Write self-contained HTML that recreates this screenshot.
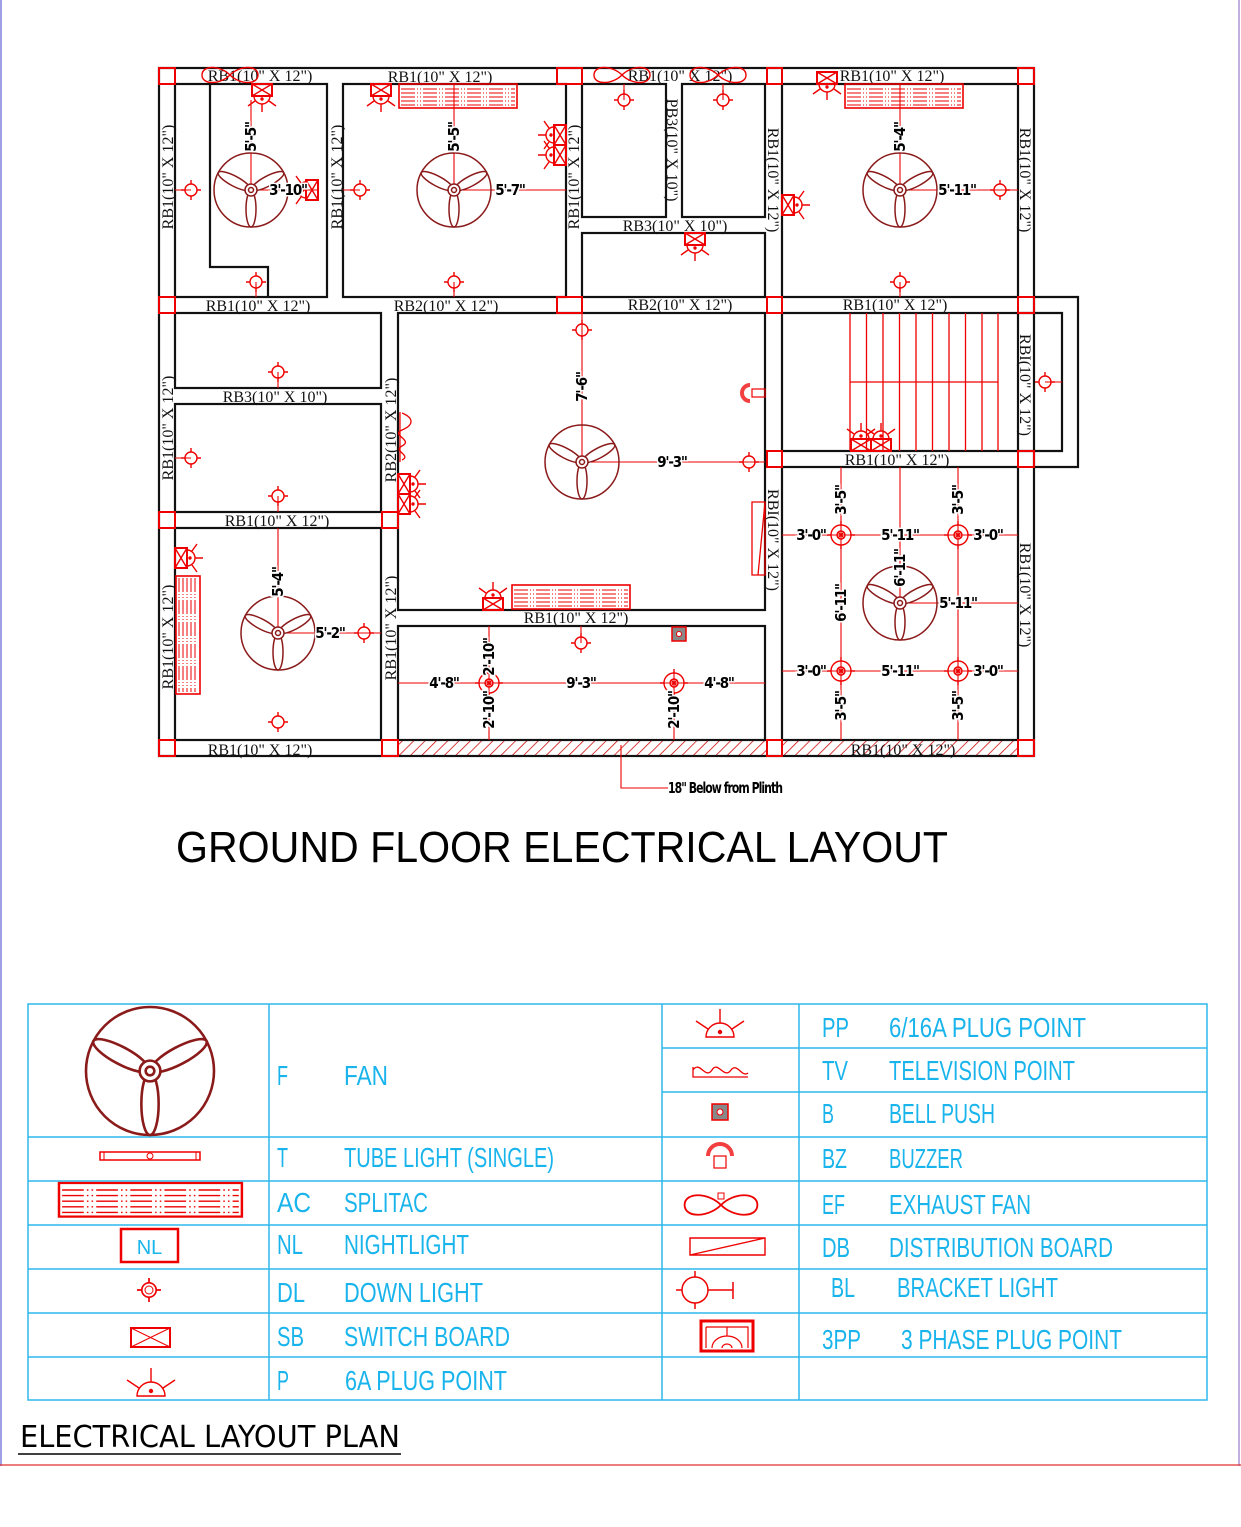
<!DOCTYPE html>
<html><head><meta charset="utf-8">
<style>
html,body{margin:0;padding:0;background:#fff}
svg{display:block}
.w{fill:none;stroke:#111;stroke-width:2.2}
.rb{font-family:"Liberation Serif",serif;font-size:16px;fill:#111}
.d{font-family:"DejaVu Sans Condensed","Liberation Sans",sans-serif;font-weight:bold;font-size:15px;letter-spacing:-1.2px;fill:#000;stroke:#fff;stroke-width:3;paint-order:stroke;text-anchor:middle;dominant-baseline:central}
.r{fill:none;stroke:#e00;stroke-width:1.3}
.col{fill:none;stroke:#e00;stroke-width:2}
.lg{font-family:"Liberation Sans",sans-serif;font-size:28px;fill:#1ab4ec}
.tl{fill:none;stroke:#2fb8ec;stroke-width:1.5}
</style></head><body>
<svg width="1241" height="1527" viewBox="0 0 1241 1527" xmlns="http://www.w3.org/2000/svg">
<defs>
<pattern id="hat" width="8" height="8" patternUnits="userSpaceOnUse" patternTransform="rotate(45)">
<line x1="0" y1="0" x2="0" y2="8" stroke="#c00" stroke-width="1.5"/></pattern>
<g id="fan" fill="none" stroke="#8b1a1a" stroke-width="1.5">
<circle r="37"/>
<ellipse cx="0" cy="19" rx="5" ry="18"/>
<ellipse cx="0" cy="19" rx="5" ry="18" transform="rotate(118)"/>
<ellipse cx="0" cy="19" rx="5" ry="18" transform="rotate(-118)"/>
<circle r="6" fill="#fff"/><circle r="2.5"/>
</g>
<g id="lt" fill="none" stroke="#e00" stroke-width="1.4">
<circle r="6"/><path d="M-10 0H-6M6 0H10M0-10V-6M0 6V10"/></g>
<g id="dl" fill="none" stroke="#e00" stroke-width="1.4">
<circle r="10"/><circle r="4"/><path d="M-3 -3L3 3M3 -3L-3 3M-14 0H-10M10 0H14M0-14V-10M0 10V14"/></g>
<g id="sbp" fill="none" stroke="#e00" stroke-width="1.4">
<rect x="-10" y="0" width="20" height="12" stroke-width="2"/><path d="M-10 0L10 12M10 0L-10 12"/>
<path d="M-8 12A8 8 0 0 0 8 12"/><circle cx="0" cy="15" r="1" fill="#e00"/>
<path d="M0 20V28M-7 17L-14 22M7 17L14 22"/></g>
<g id="plug" fill="none" stroke="#e00" stroke-width="1.4">
<path d="M-14 0A14 14 0 0 1 14 0Z"/><circle cx="0" cy="-5" r="1.5" fill="#e00"/>
<path d="M0 -14V-28M-12 -8L-24 -16M12 -8L24 -16"/></g>
<g id="ef" fill="none" stroke="#e00" stroke-width="1.4">
<path d="M0 0C-10 -10 -28 -10 -28 0C-28 10 -10 10 0 0C10 -10 28 -10 28 0C28 10 10 10 0 0Z"/></g>
<g id="ach" stroke="#e00" stroke-width="1" fill="none">
<rect x="0" y="0" width="118" height="24" stroke-width="1.6"/>
<path d="M2 5H116M2 9H116M2 13H116M2 17H116M2 21H116" stroke-dasharray="14 2 1 2 1 2"/>
</g>
</defs>

<line x1="1" y1="0" x2="1" y2="1466" stroke="#4040d0" stroke-width="1"/>
<line x1="1239" y1="0" x2="1239" y2="1466" stroke="#8060c0" stroke-width="1"/>
<line x1="0" y1="1465" x2="1241" y2="1465" stroke="#e03030" stroke-width="1.2"/>

<rect x="398" y="740" width="369" height="16" fill="url(#hat)"/>
<rect x="782" y="740" width="236" height="16" fill="url(#hat)"/>

<rect class="w" x="159" y="68" width="875" height="688"/>
<rect class="w" x="175" y="84" width="152" height="213"/>
<path class="w" d="M210 84V267H268V297"/>
<rect class="w" x="343" y="84" width="223" height="213"/>
<rect class="w" x="582" y="84" width="84" height="133"/>
<rect class="w" x="682" y="84" width="83" height="133"/>
<rect class="w" x="582" y="233" width="183" height="64"/>
<rect class="w" x="782" y="84" width="236" height="213"/>
<rect class="w" x="175" y="313" width="206" height="75"/>
<rect class="w" x="175" y="404" width="206" height="108"/>
<rect class="w" x="175" y="528" width="206" height="212"/>
<rect class="w" x="398" y="313" width="367" height="297"/>
<rect class="w" x="398" y="626" width="367" height="114"/>
<rect class="w" x="782" y="313" width="236" height="138"/>
<rect class="w" x="782" y="467" width="236" height="273"/>
<path class="w" d="M1034 297H1078V467H1034M1018 313H1062V451H1018"/>

<g class="col">
<rect x="159" y="68" width="16" height="16"/><rect x="557" y="68" width="25" height="16"/><rect x="767" y="68" width="15" height="16"/><rect x="1018" y="68" width="16" height="16"/>
<rect x="159" y="297" width="16" height="16"/><rect x="557" y="297" width="25" height="16"/><rect x="767" y="297" width="15" height="16"/><rect x="1018" y="297" width="16" height="16"/>
<rect x="767" y="451" width="15" height="16"/><rect x="1018" y="451" width="16" height="16"/>
<rect x="159" y="512" width="16" height="16"/><rect x="382" y="512" width="16" height="16"/>
<rect x="159" y="740" width="16" height="16"/><rect x="382" y="740" width="16" height="16"/><rect x="767" y="740" width="15" height="16"/><rect x="1018" y="740" width="16" height="16"/>
</g>

<g stroke="#e00" stroke-width="1.3">
<path d="M850 313V451M866.5 313V451M883 313V451M899.5 313V451M916 313V451M932.5 313V451M949 313V451M965.5 313V451M982 313V451M998 313V451M850 382H998"/>
</g>

<g class="rb" text-anchor="middle">
<text x="260" y="81">RB1(10" X 12")</text>
<text x="440" y="82">RB1(10" X 12")</text>
<text x="680" y="81">RB1(10" X 12")</text>
<text x="892" y="81">RB1(10" X 12")</text>
<text x="258" y="311">RB1(10" X 12")</text>
<text x="446" y="311">RB2(10" X 12")</text>
<text x="680" y="310">RB2(10" X 12")</text>
<text x="895" y="310">RB1(10" X 12")</text>
<text x="275" y="402">RB3(10" X 10")</text>
<text x="675" y="231">RB3(10" X 10")</text>
<text x="277" y="526">RB1(10" X 12")</text>
<text x="576" y="623">RB1(10" X 12")</text>
<text x="897" y="465">RB1(10" X 12")</text>
<text x="260" y="755">RB1(10" X 12")</text>
<text x="903" y="755">RB1(10" X 12")</text>
<text transform="translate(173,177) rotate(-90)">RB1(10" X 12")</text>
<text transform="translate(173,428) rotate(-90)">RB1(10" X 12")</text>
<text transform="translate(173,637) rotate(-90)">RB1(10" X 12")</text>
<text transform="translate(342,177) rotate(-90)">RB1(10" X 12")</text>
<text transform="translate(579,177) rotate(-90)">RB1(10" X 12")</text>
<text transform="translate(396,430) rotate(-90)">RB2(10" X 12")</text>
<text transform="translate(396,628) rotate(-90)">RB1(10" X 12")</text>
<text transform="translate(768,180) rotate(90)">RB1(10" X 12")</text>
<text transform="translate(768,540) rotate(90)">RBI(10" X 12")</text>
<text transform="translate(1020,180) rotate(90)">RB1(10" X 12")</text>
<text transform="translate(1020,385) rotate(90)">RBI(10" X 12")</text>
<text transform="translate(1020,595) rotate(90)">RB1(10" X 12")</text>
<text transform="translate(667,150) rotate(90)">PB3(10" X 10")</text>
</g>

<g stroke="#e00" stroke-width="1.1" fill="none">
<path d="M251 100V190H318"/>
<path d="M454 84V190H566"/>
<path d="M900 84V190H1018"/>
<path d="M582 313V462H765"/>
<path d="M278 528V633H381"/>
<path d="M398 683H765M489 626V740M674 672V740"/>
<path d="M782 535H1018M782 671H1018M841 467V740M958 467V740M900 467V603H1018"/>
<path d="M621 745V788H668"/>
<path d="M191 190H175M360 190H343M256 282V297M454 282V297M900 282V297M278 372V388M278 496V512M191 458H175M364 633H381M749 462H765M581 643V626M624 100V84M723 100V84M1045 382H1062"/>
</g>

<use href="#fan" x="251" y="190"/>
<use href="#fan" x="454" y="190"/>
<use href="#fan" x="900" y="190"/>
<use href="#fan" x="582" y="462"/>
<use href="#fan" x="278" y="633"/>
<use href="#fan" x="900" y="603"/>

<use href="#lt" x="191" y="190"/><use href="#lt" x="360" y="190"/><use href="#lt" x="256" y="282"/>
<use href="#lt" x="454" y="282"/><use href="#lt" x="900" y="282"/><use href="#lt" x="1000" y="190"/>
<use href="#lt" x="624" y="100"/><use href="#lt" x="723" y="100"/>
<use href="#lt" x="278" y="372"/><use href="#lt" x="191" y="458"/><use href="#lt" x="278" y="496"/>
<use href="#lt" x="582" y="330"/><use href="#lt" x="749" y="462"/><use href="#lt" x="364" y="633"/>
<use href="#lt" x="278" y="722"/><use href="#lt" x="581" y="643"/><use href="#lt" x="1045" y="382"/>

<use href="#dl" x="489" y="683"/><use href="#dl" x="674" y="683"/>
<use href="#dl" x="841" y="535"/><use href="#dl" x="958" y="535"/>
<use href="#dl" x="841" y="671"/><use href="#dl" x="958" y="671"/>

<use href="#sbp" x="262" y="84"/>
<use href="#sbp" x="381" y="84"/>
<use href="#sbp" x="827" y="72"/>
<use href="#sbp" transform="translate(695,233)"/>
<use href="#sbp" transform="translate(318,190) rotate(90)"/>
<use href="#sbp" transform="translate(566,135) rotate(90)"/>
<use href="#sbp" transform="translate(566,155) rotate(90)"/>
<use href="#sbp" transform="translate(782,205) rotate(-90)"/>
<use href="#sbp" transform="translate(398,484) rotate(-90)"/>
<use href="#sbp" transform="translate(398,504) rotate(-90)"/>
<use href="#sbp" transform="translate(175,558) rotate(-90)"/>
<use href="#sbp" transform="translate(493,610) rotate(180)"/>
<use href="#sbp" transform="translate(861,451) rotate(180)"/>
<use href="#sbp" transform="translate(881,451) rotate(180)"/>

<use href="#ef" x="230" y="75"/><use href="#ef" x="622" y="75"/><use href="#ef" x="718" y="75"/>

<use href="#ach" x="399" y="84"/>
<use href="#ach" x="845" y="84"/>
<use href="#ach" x="512" y="585"/>
<use href="#ach" transform="translate(200,576) rotate(90)"/>

<path d="M402 413C414 418 414 425 402 430C390 435 414 440 402 446C392 451 412 455 402 460" fill="none" stroke="#e00" stroke-width="1.3"/>
<path d="M400 412V462" stroke="#e00" stroke-width="1.2"/>
<path d="M750 385A8 8 0 0 0 750 401" fill="none" stroke="#e00" stroke-width="4" opacity="0.75"/>
<rect x="752" y="389" width="13" height="8" fill="none" stroke="#e00" stroke-width="1.2"/>
<path d="M752 502H765V575H752ZM765 502L758 575" fill="none" stroke="#e00" stroke-width="1.3"/>
<rect x="672" y="627" width="14" height="14" fill="#888" stroke="#e00" stroke-width="1.5"/>
<circle cx="679" cy="634" r="2.5" fill="#fff" stroke="#e00"/>

<g class="d">
<text transform="translate(251,137) rotate(-90)">5'-5"</text>
<text x="288" y="190">3'-10"</text>
<text transform="translate(454,137) rotate(-90)">5'-5"</text>
<text x="510" y="190">5'-7"</text>
<text transform="translate(900,137) rotate(-90)">5'-4"</text>
<text x="957" y="190">5'-11"</text>
<text transform="translate(582,387) rotate(-90)">7'-6"</text>
<text x="672" y="462">9'-3"</text>
<text transform="translate(278,582) rotate(-90)">5'-4"</text>
<text x="330" y="633">5'-2"</text>
<text x="444" y="683">4'-8"</text>
<text x="581" y="683">9'-3"</text>
<text x="719" y="683">4'-8"</text>
<text transform="translate(489,657) rotate(-90)">2'-10"</text>
<text transform="translate(489,710) rotate(-90)">2'-10"</text>
<text transform="translate(674,710) rotate(-90)">2'-10"</text>
<text transform="translate(841,500) rotate(-90)">3'-5"</text>
<text transform="translate(958,500) rotate(-90)">3'-5"</text>
<text transform="translate(841,706) rotate(-90)">3'-5"</text>
<text transform="translate(958,706) rotate(-90)">3'-5"</text>
<text x="811" y="535">3'-0"</text><text x="988" y="535">3'-0"</text>
<text x="811" y="671">3'-0"</text><text x="988" y="671">3'-0"</text>
<text x="900" y="535">5'-11"</text><text x="900" y="671">5'-11"</text>
<text transform="translate(841,603) rotate(-90)">6'-11"</text>
<text transform="translate(900,568) rotate(-90)">6'-11"</text>
<text x="958" y="603">5'-11"</text>
<text x="725" y="788" font-size="15" textLength="114" lengthAdjust="spacingAndGlyphs">18" Below from Plinth</text>
</g>

<text x="176" y="862" font-family="'Liberation Sans',sans-serif" font-size="44" textLength="772" lengthAdjust="spacingAndGlyphs" fill="#000">GROUND FLOOR ELECTRICAL LAYOUT</text>

<g class="tl">
<rect x="28" y="1004" width="1179" height="396"/>
<path d="M269 1004V1400M662 1004V1400M799 1004V1400"/>
<path d="M28 1137H662M28 1181H662M28 1225H662M28 1269H662M28 1313H662M28 1357H662"/>
<path d="M662 1048H1207M662 1092H1207M662 1137H1207M662 1181H1207M662 1225H1207M662 1269H1207M662 1313H1207M662 1357H1207"/>
</g>
<g transform="translate(150,1071) scale(1.73)"><use href="#fan"/></g>
<rect x="100" y="1152" width="100" height="8" fill="none" stroke="#e00" stroke-width="1.5"/>
<circle cx="150" cy="1156" r="3" fill="#fff" stroke="#e00"/>
<path d="M104 1152V1160M196 1152V1160" stroke="#e00"/>
<g transform="translate(59,1183) scale(1.55,1.4)"><use href="#ach"/></g>
<rect x="121" y="1229" width="57" height="33" fill="none" stroke="#e00" stroke-width="2.5"/>
<text x="149.5" y="1254" text-anchor="middle" font-family="'Liberation Sans',sans-serif" font-size="20" fill="#1ab4ec">NL</text>
<g transform="translate(149,1290) scale(1.2)"><use href="#lt"/></g>
<circle cx="149" cy="1290" r="4" fill="none" stroke="#e00"/>
<rect x="131" y="1328" width="39" height="19" fill="none" stroke="#e00" stroke-width="2"/>
<path d="M131 1328L170 1347M170 1328L131 1347" stroke="#e00"/>
<use href="#plug" x="151" y="1396"/>
<use href="#plug" x="720" y="1037"/>
<path d="M693 1070C700 1060 705 1080 712 1070C718 1060 724 1080 731 1070C737 1062 742 1078 748 1073M693 1067V1077H748" fill="none" stroke="#e00" stroke-width="1.3"/>
<rect x="712" y="1104" width="16" height="16" fill="#888" stroke="#e00" stroke-width="1.5"/>
<circle cx="720" cy="1112" r="3" fill="#fff" stroke="#e00"/>
<path d="M708 1156A12 12 0 0 1 732 1156" fill="none" stroke="#e00" stroke-width="4" opacity="0.75"/>
<rect x="714" y="1156" width="12" height="12" fill="none" stroke="#e00" stroke-width="1.2"/>
<g transform="translate(721,1205) scale(1.3)"><use href="#ef"/></g>
<rect x="718" y="1193" width="6" height="6" fill="none" stroke="#e00"/>
<path d="M690 1238H765V1255H690ZM690 1255L765 1238" fill="none" stroke="#e00" stroke-width="1.4"/>
<circle cx="695" cy="1290" r="13" fill="none" stroke="#e00" stroke-width="1.5"/>
<path d="M676 1290H682M708 1290H733M733 1282V1299M695 1271V1277M695 1303V1309" stroke="#e00" stroke-width="1.5"/>
<rect x="701" y="1321" width="52" height="30" fill="none" stroke="#e00" stroke-width="3"/>
<path d="M706 1327H748V1348M706 1327V1348M727 1327V1336M712 1348A15 12 0 0 1 742 1348M722 1348A5 4 0 0 1 732 1348" fill="none" stroke="#e00" stroke-width="1.2"/>

<g class="lg" lengthAdjust="spacingAndGlyphs">
<text x="277" y="1085" textLength="11" lengthAdjust="spacingAndGlyphs">F</text><text x="344" y="1085" textLength="44" lengthAdjust="spacingAndGlyphs">FAN</text>
<text x="277" y="1167" textLength="11" lengthAdjust="spacingAndGlyphs">T</text><text x="344" y="1167" textLength="210" lengthAdjust="spacingAndGlyphs">TUBE LIGHT (SINGLE)</text>
<text x="277" y="1212" textLength="34" lengthAdjust="spacingAndGlyphs">AC</text><text x="344" y="1212" textLength="84" lengthAdjust="spacingAndGlyphs">SPLITAC</text>
<text x="277" y="1254" textLength="26" lengthAdjust="spacingAndGlyphs">NL</text><text x="344" y="1254" textLength="125" lengthAdjust="spacingAndGlyphs">NIGHTLIGHT</text>
<text x="277" y="1302" textLength="28" lengthAdjust="spacingAndGlyphs">DL</text><text x="344" y="1302" textLength="139" lengthAdjust="spacingAndGlyphs">DOWN LIGHT</text>
<text x="277" y="1346" textLength="27" lengthAdjust="spacingAndGlyphs">SB</text><text x="344" y="1346" textLength="166" lengthAdjust="spacingAndGlyphs">SWITCH BOARD</text>
<text x="277" y="1390" textLength="12" lengthAdjust="spacingAndGlyphs">P</text><text x="345" y="1390" textLength="162" lengthAdjust="spacingAndGlyphs">6A PLUG POINT</text>
<text x="822" y="1037" textLength="27" lengthAdjust="spacingAndGlyphs">PP</text><text x="889" y="1037" textLength="197" lengthAdjust="spacingAndGlyphs">6/16A PLUG POINT</text>
<text x="822" y="1080" textLength="26" lengthAdjust="spacingAndGlyphs">TV</text><text x="889" y="1080" textLength="186" lengthAdjust="spacingAndGlyphs">TELEVISION POINT</text>
<text x="822" y="1123" textLength="12" lengthAdjust="spacingAndGlyphs">B</text><text x="889" y="1123" textLength="106" lengthAdjust="spacingAndGlyphs">BELL PUSH</text>
<text x="822" y="1168" textLength="25" lengthAdjust="spacingAndGlyphs">BZ</text><text x="889" y="1168" textLength="74" lengthAdjust="spacingAndGlyphs">BUZZER</text>
<text x="822" y="1214" textLength="23" lengthAdjust="spacingAndGlyphs">EF</text><text x="889" y="1214" textLength="142" lengthAdjust="spacingAndGlyphs">EXHAUST FAN</text>
<text x="822" y="1257" textLength="28" lengthAdjust="spacingAndGlyphs">DB</text><text x="889" y="1257" textLength="224" lengthAdjust="spacingAndGlyphs">DISTRIBUTION BOARD</text>
<text x="831" y="1297" textLength="24" lengthAdjust="spacingAndGlyphs">BL</text><text x="897" y="1297" textLength="161" lengthAdjust="spacingAndGlyphs">BRACKET LIGHT</text>
<text x="822" y="1349" textLength="39" lengthAdjust="spacingAndGlyphs">3PP</text><text x="901" y="1349" textLength="221" lengthAdjust="spacingAndGlyphs">3 PHASE PLUG POINT</text>
</g>

<text x="20" y="1447" font-family="'DejaVu Sans Condensed','DejaVu Sans',sans-serif" font-size="30" textLength="380" lengthAdjust="spacingAndGlyphs" fill="#000">ELECTRICAL LAYOUT PLAN</text>
<line x1="18" y1="1454" x2="401" y2="1454" stroke="#000" stroke-width="1.5"/>
</svg>
</body></html>
